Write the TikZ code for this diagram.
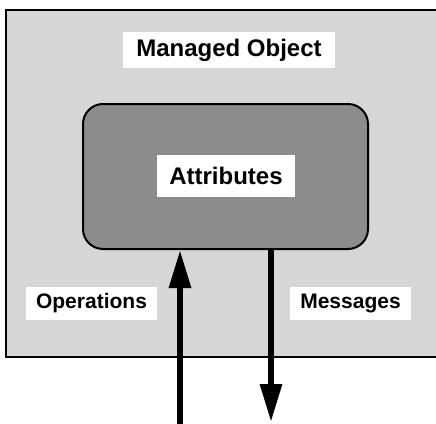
\documentclass[tikz,border=0pt]{standalone}
\usepackage{fontspec}
\setmainfont{Liberation Sans}
\usetikzlibrary{arrows.meta}
\definecolor{outergray}{gray}{0.84}
\definecolor{innergray}{gray}{0.55}
\tikzset{
  lbl/.style={fill=white, inner sep=0pt, font=\bfseries\fontsize{24}{28}\selectfont},
  smalllbl/.style={fill=white, inner sep=0pt, font=\bfseries\fontsize{21}{25}\selectfont},
  flow/.style={line width=6pt, -{Triangle[length=38pt,width=21pt]}},
}
\begin{document}
\begin{tikzpicture}[x=1pt,y=-1pt]
\useasboundingbox (0,0) rectangle (436,423);
\clip (0,0) rectangle (436,423);
\fill[white] (0,0) rectangle (436,423);
% outer managed object box
\draw[line width=1.6pt, fill=outergray] (6,10) rectangle (445,357);
\node[lbl, minimum width=212pt, minimum height=36pt] (mo) at (229,50) {Managed Object};
% inner attributes box
\node[draw, line width=2pt, fill=innergray, rounded corners=20pt,
      minimum width=285pt, minimum height=145pt, inner sep=0pt] (attrbox) at (225.5,176.5) {};
\node[lbl, minimum width=138pt, minimum height=42pt] (attr) at (226,176) {Attributes};
% labels
\node[smalllbl, minimum width=131pt, minimum height=33pt] (ops) at (91.5,303.5) {Operations};
\node[smalllbl, minimum width=121pt, minimum height=33pt] (msg) at (350.5,303.5) {Messages};
% arrows
\coordinate (opsrc) at (180,430);
\coordinate (msgdst) at (271,422);
\draw[flow] (opsrc) -- (opsrc |- attrbox.south);
\draw[flow] (msgdst |- attrbox.south) -- (msgdst);
\end{tikzpicture}
\end{document}
